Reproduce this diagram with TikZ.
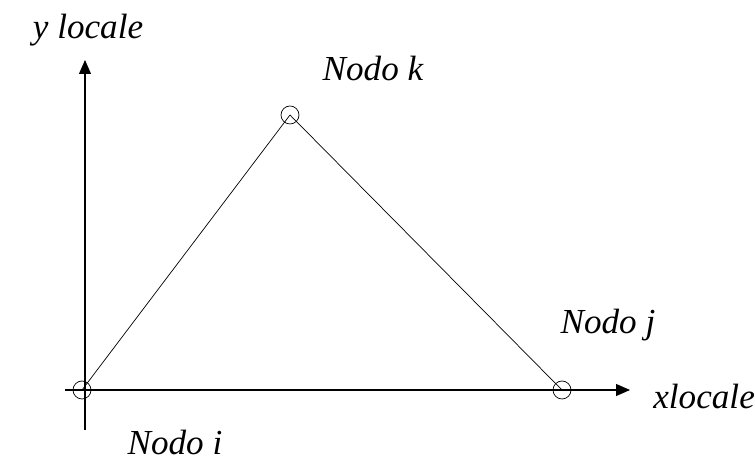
\documentclass[tikz,border=0pt]{standalone}
\usepackage{fontspec}
\setmainfont{Liberation Serif}
\usetikzlibrary{arrows.meta}

\begin{document}
\begin{tikzpicture}[
    nodo/.style={circle, draw, thin, inner sep=0pt, minimum size=0.36cm},
    asse/.style={-{Triangle[length=0.28cm, width=0.24cm]}, semithick},
    lato/.style={thin},
    etichetta/.style={font=\fontsize{20}{22}\selectfont\itshape, inner sep=0pt}
]
\useasboundingbox (0,0) rectangle (15.1,9.22);

% Assi locali
\coordinate (xini) at (1.30,1.42);
\coordinate (xfin) at (12.60,1.42);
\coordinate (yini) at (1.70,0.62);
\coordinate (yfin) at (1.70,8.02);
\draw[asse] (xini) -- (xfin);
\draw[asse] (yini) -- (yfin);

% Nodi
\node[nodo] (ni) at (1.64,1.42) {};
\node[nodo] (nk) at (5.80,6.92) {};
\node[nodo] (nj) at (11.24,1.42) {};

% Lati del triangolo
\draw[lato] (ni.center) -- (nk.center);
\draw[lato] (nk.center) -- (nj.center);

% Etichette
\node[etichetta] (ly) at (1.76,8.62) {y locale};
\node[etichetta, anchor=west] (lx) at (13.06,1.30) {xlocale};
\node[etichetta] (lk) at (7.46,7.86) {Nodo k};
\node[etichetta] (lj) at (12.16,2.72) {Nodo j};
\node[etichetta] (li) at (3.50,0.38) {Nodo i};
\end{tikzpicture}
\end{document}
